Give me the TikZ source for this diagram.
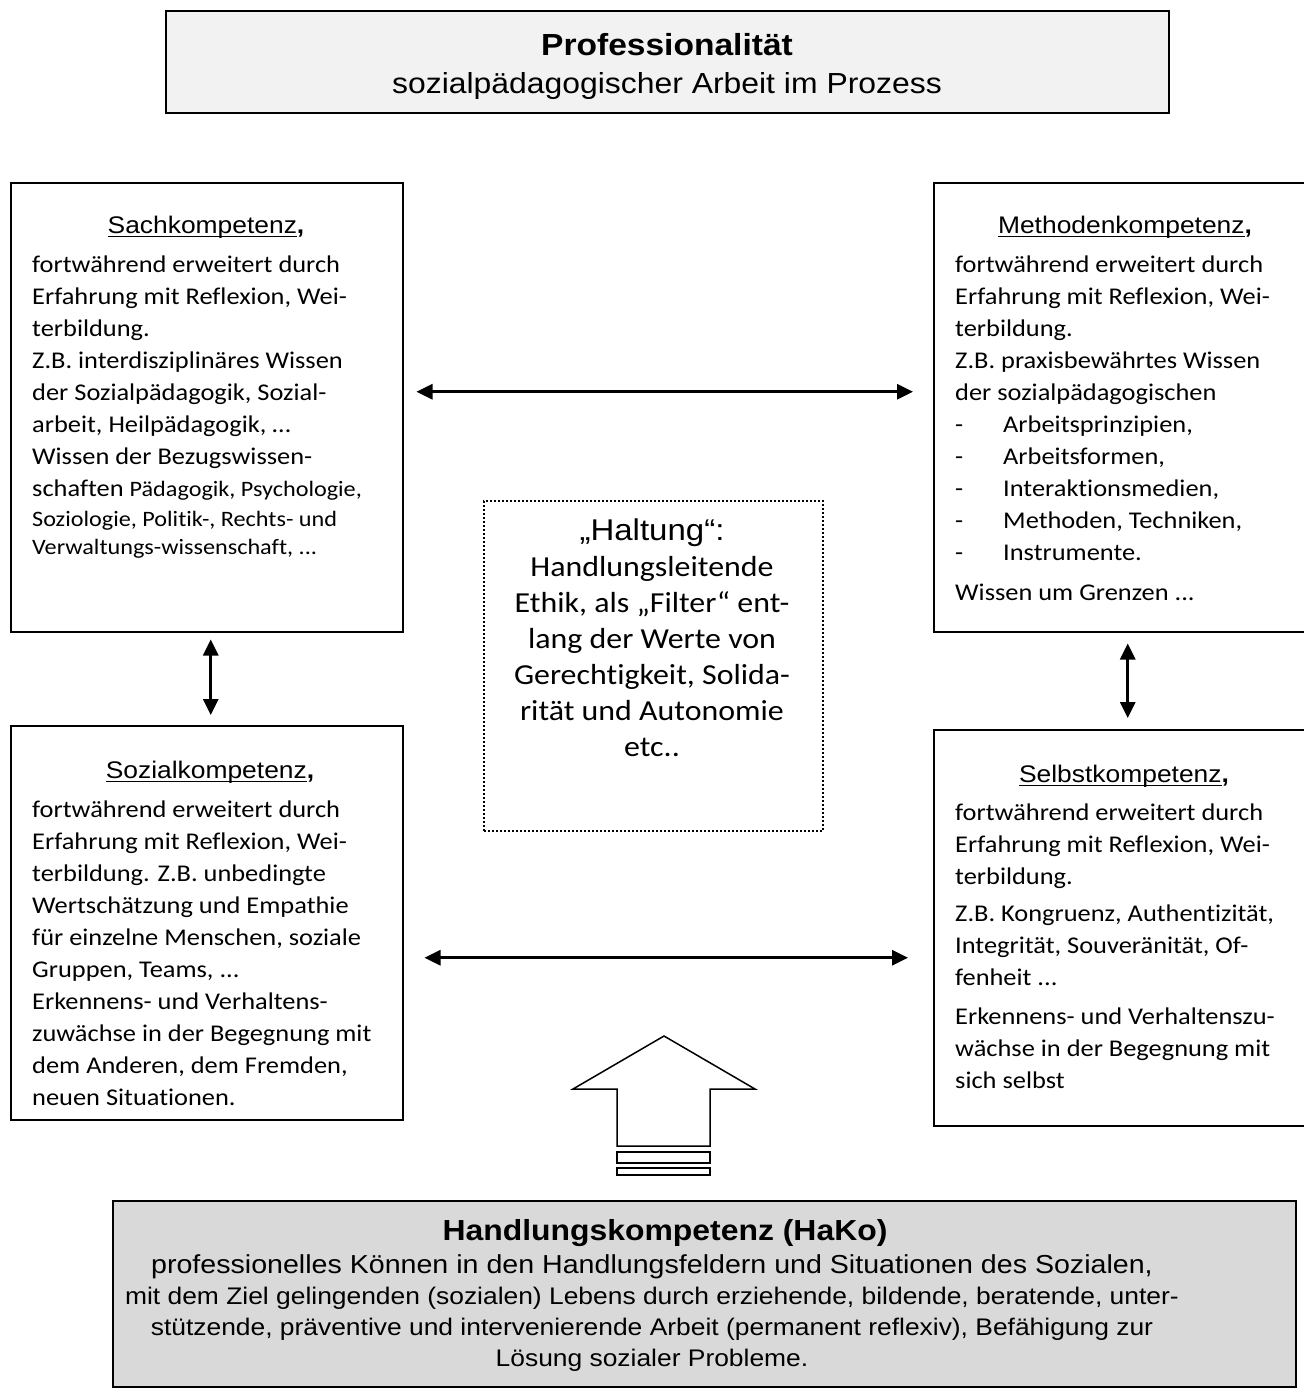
\documentclass[tikz,border=0pt]{standalone}
\usepackage{fontspec}
\setmainfont{Carlito}[FakeStretch=1.1,Ligatures=NoCommon]
\newfontfamily\arialf{Liberation Sans}[FakeStretch=1.1]
\usetikzlibrary{arrows.meta,calc}
\definecolor{titlegray}{RGB}{242,242,242}
\definecolor{hakogray}{RGB}{217,217,217}
\newcommand\myul[1]{\setbox0\hbox{#1}\rlap{\rule[-4pt]{\wd0}{1.4pt}}\box0}
\newcommand\dashitem[1]{\makebox[48pt][l]{-}#1}
\begin{document}
\begin{tikzpicture}[x=1pt,y=-1pt,
  frame/.style={draw, line width=1.5pt, rectangle, inner sep=0pt, anchor=north west},
  head/.style={font=\arialf\fontsize{24}{29}\selectfont, anchor=base, inner sep=0pt},
  body/.style={font=\fontsize{24}{32}\selectfont, align=left, anchor=north west, inner sep=0pt},
  biarr/.style={{Triangle[length=16pt,width=15pt]}-{Triangle[length=16pt,width=15pt]}, line width=3pt},
  hollow/.style={draw, line width=1.5pt, fill=white}
]
\useasboundingbox (0,0) rectangle (1304,1390);

% title
\node[frame, fill=titlegray, minimum width=1003pt, minimum height=102pt] (title) at (165,10) {};
\node[font=\arialf\fontsize{29}{38}\selectfont, align=center, anchor=north, inner sep=0pt] (titletext) at (667,28.4)
  {\strut{\fontsize{30.5}{38}\selectfont\bfseries Professionalität}\\ sozialpädagogischer Arbeit im Prozess};

% four boxes
\node[frame, minimum width=392pt, minimum height=449pt] (sach) at (10,182) {};
\node[frame, minimum width=377pt, minimum height=449pt] (meth) at (933,182) {};
\node[frame, minimum width=392pt, minimum height=394pt] (sozi) at (10,725) {};
\node[frame, minimum width=377pt, minimum height=396pt] (selb) at (933,729) {};

\node[head] (sachhead) at (206,233) {\myul{Sachkompetenz}\textbf{,}};
\node[head] (methhead) at (1125,233) {\myul{Methodenkompetenz}\textbf{,}};
\node[head] (sozihead) at (210,778) {\myul{Sozialkompetenz}\textbf{,}};
\node[head] (selbhead) at (1124,782) {\myul{Selbstkompetenz}\textbf{,}};

\node[body] (sachtext) at (32,249.6) {\strut fortwährend erweitert durch\\
Erfahrung mit Reflexion, Wei-\\
terbildung.\\
Z.B. interdisziplinäres Wissen\\
der Sozialpädagogik, Sozial-\\
arbeit, Heilpädagogik, …\\
Wissen der Bezugswissen-\\
schaften {\fontsize{22}{28}\selectfont Pädagogik, Psychologie,}\\[-2pt]
{\fontsize{22}{28}\selectfont Soziologie, Politik-, Rechts- und}\\[-4pt]
{\fontsize{22}{28}\selectfont Verwaltungs-wissenschaft, ...}};

\node[body] (methtext) at (955,249.6) {\strut fortwährend erweitert durch\\
Erfahrung mit Reflexion, Wei-\\
terbildung.\\
Z.B. praxisbewährtes Wissen\\
der sozialpädagogischen\\
\dashitem{Arbeitsprinzipien,}\\
\dashitem{Arbeitsformen,}\\
\dashitem{Interaktionsmedien,}\\
\dashitem{Methoden, Techniken,}\\
\dashitem{Instrumente.}\\[8pt]
Wissen um Grenzen ...};

\node[body] (sozitext) at (32,794.6) {\strut fortwährend erweitert durch\\
Erfahrung mit Reflexion, Wei-\\
terbildung. Z.B. unbedingte\\
Wertschätzung und Empathie\\
für einzelne Menschen, soziale\\
Gruppen, Teams, ...\\
Erkennens- und Verhaltens-\\
zuwächse in der Begegnung mit\\
dem Anderen, dem Fremden,\\
neuen Situationen.};

\node[body] (selbtext) at (955,797.6) {\strut fortwährend erweitert durch\\
Erfahrung mit Reflexion, Wei-\\
terbildung.\\[5pt]
Z.B. Kongruenz, Authentizität,\\
Integrität, Souveränität, Of-\\
fenheit ...\\[7pt]
Erkennens- und Verhaltenszu-\\
wächse in der Begegnung mit\\
sich selbst};

% Haltung
\node[frame, dash pattern=on 2pt off 2pt, line width=2pt, minimum width=339pt, minimum height=330pt] (halt) at (483,500) {};
\node[font=\fontsize{29}{36}\selectfont, align=center, anchor=north, inner sep=0pt] (halttext) at (652,514.8)
  {\strut{\arialf\fontsize{30}{36}\selectfont „Haltung“:}\\
  Handlungsleitende\\
  Ethik, als „Filter“ ent-\\
  lang der Werte von\\
  Gerechtigkeit, Solida-\\
  rität und Autonomie\\
  etc..};

% bottom box
\node[frame, fill=hakogray, minimum width=1183pt, minimum height=186pt] (hako) at (112,1200) {};
\node[font=\arialf\fontsize{24}{31}\selectfont, align=center, anchor=north, inner sep=0pt] (hakotext) at (652,1218.3)
  {\strut\hspace*{26pt}{\fontsize{29}{31}\selectfont\bfseries Handlungskompetenz (HaKo)}\\[2pt]
  {\fontsize{26}{31}\selectfont professionelles Können in den Handlungsfeldern und Situationen des Sozialen,}\\
  mit dem Ziel gelingenden (sozialen) Lebens durch erziehende, bildende, beratende, unter-\\
  stützende, präventive und intervenierende Arbeit (permanent reflexiv), Befähigung zur\\
  Lösung sozialer Probleme.};

% connectors
\draw[biarr] ($(sach.east)+(13,-15.5)$) -- ($(meth.west)+(-20,-15.5)$);
\draw[biarr] ($(sozi.east)+(21,35)$) -- ($(selb.west)+(-25,30)$);
\draw[biarr] ($(sach.south)+(4,7)$) -- ($(sozi.north)+(4,-10)$);
\draw[biarr] ($(meth.south)+(5.5,11)$) -- ($(selb.north)+(5.5,-11)$);

% hollow arrow
\draw[hollow] (617,1146) -- (617,1089) -- (573,1089) -- (664,1036) -- (755,1089) -- (710,1089) -- (710,1146) -- cycle;
\draw[hollow] (617,1152) rectangle (710,1163);
\draw[hollow] (617,1168) rectangle (710,1175);
\end{tikzpicture}
\end{document}
